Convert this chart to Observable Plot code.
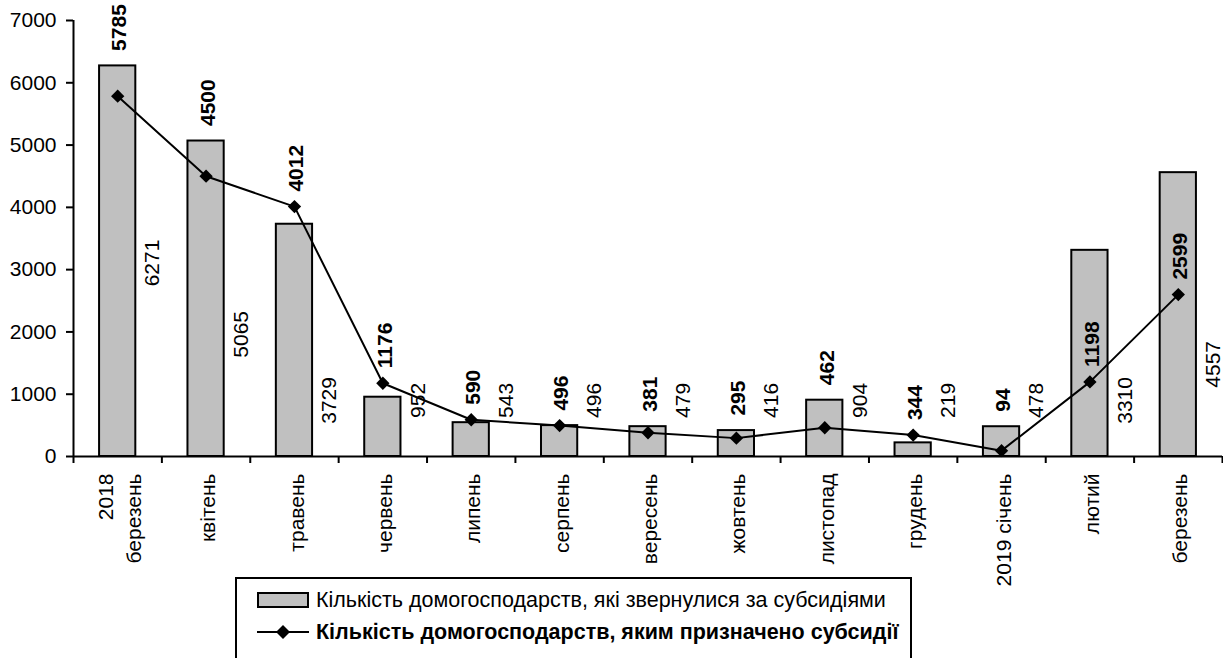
<!DOCTYPE html>
<html>
<head>
<meta charset="utf-8">
<script src="https://cdn.jsdelivr.net/npm/d3@7"></script>
<script src="https://cdn.jsdelivr.net/npm/@observablehq/plot@0.6"></script>
<style>
  html, body { margin: 0; padding: 0; background: #fff; }
  body { font-family: "Liberation Sans", Arial, sans-serif; color: #000; }
  #legend { position: relative; margin-left: 235px; width: 677px; height: 110px; border: 2px solid #000; box-sizing: border-box; background: #fff; }
  .lg-row { position: absolute; left: 20px; display: flex; align-items: center; height: 30px; font-size: 21.5px; white-space: nowrap; }
  .lg-row svg { margin-right: 7px; }
</style>
</head>
<body>
<div id="chart"></div>
<div id="legend">
  <div class="lg-row" style="top:6px">
    <svg width="52" height="16"><rect x="1" y="1" width="50" height="14" fill="#c0c0c0" stroke="#000" stroke-width="2"/></svg>
    <span>Кількість домогосподарств, які звернулися за субсидіями</span>
  </div>
  <div class="lg-row" style="top:38px">
    <svg width="52" height="16"><line x1="0" y1="8" x2="52" y2="8" stroke="#000" stroke-width="2"/><path d="M26,1L33,8L26,15L19,8Z" fill="#000"/></svg>
    <span style="font-weight:bold">Кількість домогосподарств, яким призначено субсидії</span>
  </div>
</div>
<script>
const months = ["2018\nберезень", "квітень", "травень", "червень", "липень", "серпень", "вересень", "жовтень", "листопад", "грудень", "2019 січень", "лютий", "березень"];
const applied = [6271, 5065, 3729, 952, 543, 496, 479, 416, 904, 219, 478, 3310, 4557];
const granted = [5785, 4500, 4012, 1176, 590, 496, 381, 295, 462, 344, 94, 1198, 2599];
const yTicks = [0, 1000, 2000, 3000, 4000, 5000, 6000, 7000];

const data = months.map((m, i) => ({i, m, applied: applied[i], granted: granted[i]}));
const boundaries = d3.range(months.length + 1).map(i => i - 0.5);
const font = '"Liberation Sans", Arial, sans-serif';

// label anchors: bold labels sit above the marker, or above the bar top when the bar is only slightly taller
const grantedLabelAt = d => (d.applied > d.granted && d.applied - d.granted < 1000) ? d.applied : d.granted;
const appliedLabelAt = d => Math.max(0.95 * (d.applied - 3000), 900);

const chart = Plot.plot({
  width: 1223,
  height: 577,
  marginLeft: 73,
  marginRight: 1,
  marginTop: 20,
  marginBottom: 121,
  style: {fontFamily: font, fontSize: "21px", color: "#000", background: "#fff", overflow: "visible"},
  x: {type: "linear", domain: [-0.5, months.length - 0.5], axis: null},
  y: {domain: [0, 7000], axis: null},
  marks: [
    Plot.rectY(data, {x1: d => d.i - 0.205, x2: d => d.i + 0.205, y1: 0, y2: "applied", fill: "#c0c0c0", stroke: "#000", strokeWidth: 2}),
    Plot.ruleY([0], {stroke: "#000", strokeWidth: 2}),
    Plot.ruleX([-0.5], {y1: 0, y2: 7000, stroke: "#000", strokeWidth: 2}),
    Plot.axisY({ticks: yTicks, tickSize: 7, tickPadding: 10, tickFormat: d => String(d), fontSize: 21, strokeWidth: 2, label: null}),
    Plot.axisX({ticks: boundaries, tickSize: 7, tickFormat: () => "", strokeWidth: 2, label: null}),
    Plot.text(data, {x: "i", y: () => 0, text: "m", rotate: -90, textAnchor: "end", dy: 17, lineHeight: 1.35, fontSize: 21}),
    Plot.line(data, {x: "i", y: "granted", stroke: "#000", strokeWidth: 2}),
    Plot.dot(data, {x: "i", y: "granted", symbol: "diamond2", r: 6, fill: "#000", stroke: "none"}),
    Plot.text(data, {x: "i", y: grantedLabelAt, text: d => String(d.granted), rotate: -90, textAnchor: "start", dy: -15, dx: 2, fontWeight: "bold", fontSize: 21}),
    Plot.text(data, {x: "i", y: appliedLabelAt, text: d => String(d.applied), rotate: -90, dx: 35, fontSize: 21})
  ]
});
document.getElementById("chart").appendChild(chart);
</script>
</body>
</html>
